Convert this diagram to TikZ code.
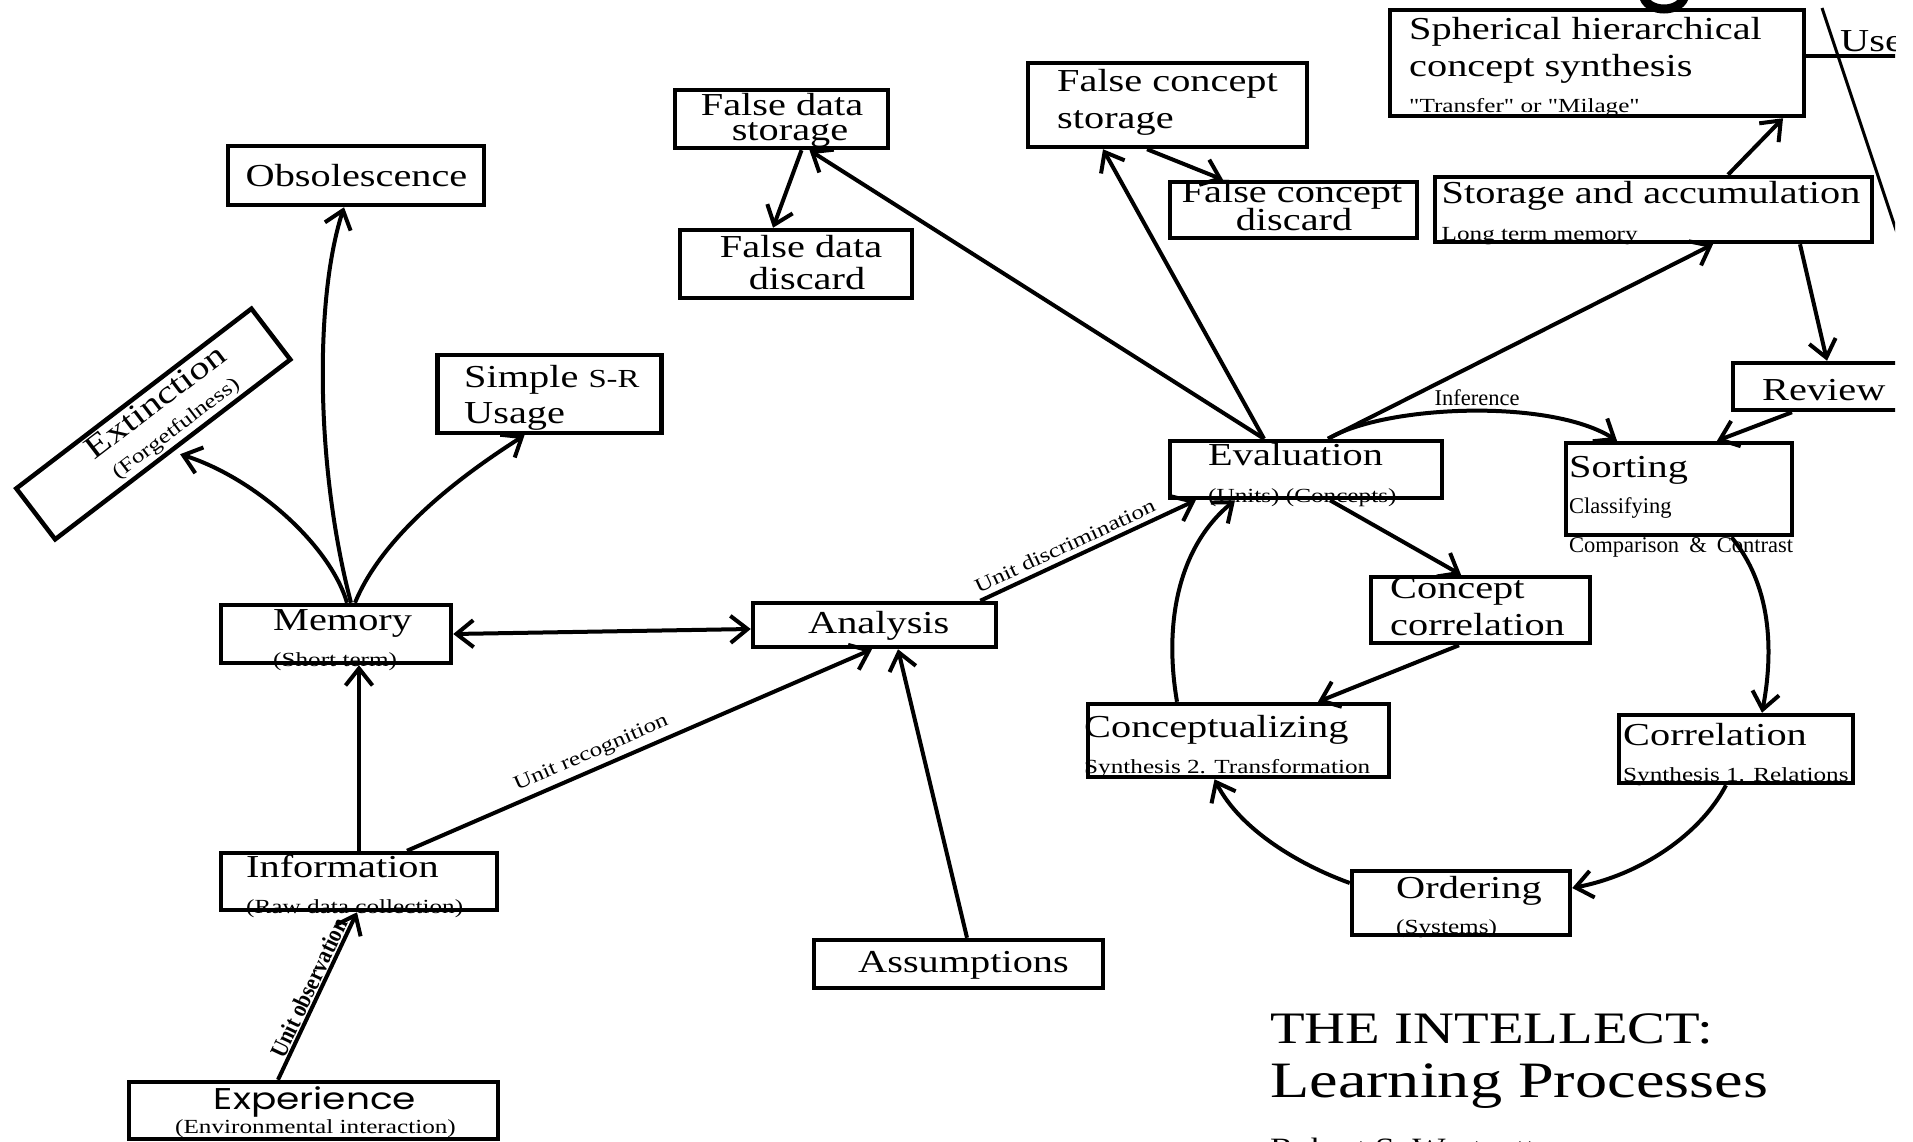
\documentclass[tikz,border=0pt]{standalone}
\usepackage{fontspec}
\setmainfont{Liberation Serif}
\newfontfamily\tnr{Liberation Serif}[FakeStretch=1.26]
\newfontfamily\tnrc{Liberation Serif}[FakeStretch=0.88]
\newfontfamily\gsans{Poppins}[FakeStretch=1.25]
\usetikzlibrary{arrows.meta}
\begin{document}
\begin{tikzpicture}[x=1pt,y=-1pt,
  box/.style={draw, line width=4.5pt, inner sep=0pt, rectangle},
  con/.style={line width=4pt},
  arr/.style={con, -{Straight Barb[length=17pt,width=27pt]}},
  darr/.style={con, {Straight Barb[length=17pt,width=27pt]}-{Straight Barb[length=17pt,width=27pt]}},
  big/.style={font=\tnr\fontsize{32}{32}\selectfont, inner sep=0pt},
  sml/.style={font=\tnr\fontsize{20}{20}\selectfont, inner sep=0pt},
  tiny/.style={font=\fontsize{22.5}{22.5}\selectfont, inner sep=0pt},
  ]
\useasboundingbox (0,0) rectangle (1913,1142);
\begin{scope}
\clip (0,0) rectangle (1895,1142);

% boxes
\node[box, minimum width=256pt, minimum height=59pt] (obs) at (356,175.5) {};
\node[box, minimum width=213pt, minimum height=58pt] (fds) at (781.5,119) {};
\node[box, minimum width=232pt, minimum height=68pt] (fdd) at (796,264) {};
\node[box, minimum width=279pt, minimum height=84pt] (fcs) at (1167.5,105) {};
\node[box, minimum width=247pt, minimum height=56pt] (fcd) at (1293.5,210) {};
\node[box, minimum width=414pt, minimum height=106pt] (sph) at (1597,63) {};
\node[box, minimum width=437pt, minimum height=65pt] (sto) at (1653.5,209.5) {};
\node[box, minimum width=197pt, minimum height=47pt] (rev) at (1831.5,386.5) {};
\node[box, minimum width=226pt, minimum height=92pt] (sort) at (1679,489) {};
\node[box, minimum width=272pt, minimum height=57pt] (eval) at (1306,469.5) {};
\node[box, minimum width=219pt, minimum height=66pt] (cc) at (1480.5,610) {};
\node[box, minimum width=301pt, minimum height=73pt] (ctz) at (1238.5,740.5) {};
\node[box, minimum width=234pt, minimum height=68pt] (corr) at (1736,749) {};
\node[box, minimum width=218pt, minimum height=64pt] (ord) at (1461,903) {};
\node[box, minimum width=230pt, minimum height=58pt] (mem) at (336,634) {};
\node[box, minimum width=243pt, minimum height=44pt] (ana) at (874.5,625) {};
\node[box, minimum width=224pt, minimum height=78pt] (ssr) at (549.5,394) {};
\node[box, minimum width=276pt, minimum height=57pt] (inf) at (359,881.5) {};
\node[box, minimum width=369pt, minimum height=57pt] (exp) at (313.5,1110.5) {};
\node[box, minimum width=289pt, minimum height=48pt] (ass) at (958.5,964) {};
\node[box, minimum width=296pt, minimum height=64pt, rotate=37.4] (ext) at (153.3,424) {};

% texts
\node[big, anchor=base west] (tobs) at (245.5,187) {Obsolescence};
\node[big, anchor=base] (tfds1) at (782,116) {False data};
\node[big, anchor=base] (tfds2) at (790,141) {storage};
\node[big, anchor=base] (tfdd1) at (801,257) {False data};
\node[big, anchor=base] (tfdd2) at (807,289) {discard};
\node[big, anchor=base west] (tfcs1) at (1057,92) {False concept};
\node[big, anchor=base west] (tfcs2) at (1057,129) {storage};
\node[big, anchor=base] (tfcd1) at (1292,203) {False concept};
\node[big, anchor=base] (tfcd2) at (1294,230) {discard};
\node[big, anchor=base west] (tsph1) at (1409,40) {Spherical hierarchical};
\node[big, anchor=base west] (tsph2) at (1409,77) {concept synthesis};
\node[sml, anchor=base west] (tsph3) at (1409,113) {"Transfer" or "Milage"};
\node[big, anchor=base west] (tsto1) at (1441.5,204) {Storage and accumulation};
\node[sml, anchor=base west] (tsto2) at (1441.5,240) {Long term memory};
\node[big, anchor=base west] (trev) at (1762,400) {Review};
\node[big, anchor=base west] (tsort1) at (1569,477) {Sorting};
\node[tiny, anchor=base west] (tsort2) at (1569,513) {Classifying};
\node[tiny, anchor=base west] (tsort3) at (1569,552) {Comparison\hspace{0.45em}\&\hspace{0.45em}Contrast};
\node[big, anchor=base west] (teval1) at (1208,465) {Evaluation};
\node[sml, anchor=base west] (teval2) at (1208,502) {(Units) (Concepts)};
\node[big, anchor=base west] (tcc1) at (1390,598) {Concept};
\node[big, anchor=base west] (tcc2) at (1390,635) {correlation};
\node[big, anchor=base west] (tctz1) at (1084,737) {Conceptualizing};
\node[sml, anchor=base west] (tctz2) at (1084,773) {Synthesis 2. Transformation};
\node[big, anchor=base west] (tcorr1) at (1623,745) {Correlation};
\node[sml, anchor=base west] (tcorr2) at (1623,781) {Synthesis 1. Relations};
\node[big, anchor=base west] (tord1) at (1396,898) {Ordering};
\node[sml, anchor=base west] (tord2) at (1396,933) {(Systems)};
\node[big, anchor=base west] (tmem1) at (273,630) {Memory};
\node[sml, anchor=base west] (tmem2) at (273,666) {(Short term)};
\node[big, anchor=base west] (tana) at (808,633) {Analysis};
\node[big, anchor=base west] (tssr1) at (464,387) {Simple {\fontsize{26}{26}\selectfont S-R}};
\node[big, anchor=base west] (tssr2) at (464,423) {Usage};
\node[big, anchor=base west] (tinf1) at (246,877) {Information};
\node[sml, anchor=base west] (tinf2) at (246,913) {(Raw data collection)};
\node[font=\gsans\fontsize{30}{30}\selectfont, inner sep=0pt, anchor=base] (texp1) at (315,1109) {Experience};
\node[sml, anchor=base] (texp2) at (315.5,1133) {(Environmental interaction)};
\node[big, anchor=base west] (tass) at (858,972) {Assumptions};
\node[big, anchor=base west] (tuse) at (1840,52) {Use};
\node[big, rotate=37.4] (text1) at (155,401.5) {Extinction};
\node[sml, rotate=37.4] (text2) at (177,429) {(Forgetfulness)};
\node[tiny, anchor=base] (tinfer) at (1477,405) {Inference};
\node[font=\tnr\fontsize{45}{45}\selectfont, inner sep=0pt, anchor=base west] (title1) at (1270,1043) {THE INTELLECT:};
\node[font=\tnr\fontsize{51}{51}\selectfont, inner sep=0pt, anchor=base west] (title2) at (1270,1097) {Learning Processes};
\node[font=\tnr\fontsize{28}{28}\selectfont, inner sep=0pt, anchor=base west] (author) at (1270,1157) {Robert S. Westcott};

% connectors
\draw[arr] ([xshift=15pt]mem.north) .. controls (316,470) and (314,300) .. ([xshift=-12pt]obs.south);
\draw[arr] ([xshift=11pt]mem.north) .. controls (330,545) and (255,478) .. ([shift={(6pt,-3pt)}]ext.south);
\draw[arr] ([xshift=19pt]mem.north) .. controls (385,530) and (470,470) .. ([xshift=-25pt]ssr.south);
\draw[darr] (mem.east) -- ([yshift=-4pt]ana.west);
\draw[arr] (inf.north) -- (inf.north |- mem.south);
\draw[arr] ([xshift=48pt]inf.north) -- node[sml, sloped, above=5pt, pos=0.41] (lrec) {Unit recognition} ([xshift=-2.5pt]ana.south);
\draw[arr] ([xshift=-35.5pt]exp.north) -- node[font=\tnrc\bfseries\fontsize{24}{24}\selectfont, inner sep=0pt, sloped, above=1pt, pos=0.52] (lobs) {Unit observation} ([xshift=-2pt]inf.south);
\draw[arr] ([xshift=8.5pt]ass.north) -- ([xshift=23.5pt]ana.south);
\draw[arr] ([xshift=-18pt]ana.north east) -- node[sml, sloped, above=5pt, pos=0.42] (ldis) {Unit discrimination} ([xshift=28pt]eval.south west);
\draw[arr] ([xshift=-42pt]eval.north) -- ([xshift=28pt]fds.south);
\draw[arr] ([xshift=-42pt]eval.north) -- ([xshift=-64.5pt]fcs.south);
\draw[arr] ([xshift=-20.5pt]fcs.south) -- ([xshift=-70.5pt]fcd.north);
\draw[arr] ([xshift=20pt]fds.south) -- ([xshift=-23pt]fdd.north);
\draw[arr] ([xshift=22pt]eval.north) -- ([xshift=59.5pt]sto.south);
\draw[arr] ([xshift=74.5pt]sto.north) -- ([xshift=186pt]sph.south);
\draw[arr] ([xshift=146.5pt]sto.south) -- ([xshift=-4.5pt]rev.north);
\draw[arr] ([xshift=-39.5pt]rev.south) -- ([xshift=38pt]sort.north);
\draw[arr] ([xshift=22pt]eval.north) .. controls (1385,405) and (1550,398) .. ([xshift=-62pt]sort.north);
\draw[arr] ([xshift=52.5pt]sort.south) .. controls (1775,590) and (1772,660) .. ([xshift=26pt]corr.north);
\draw[arr] ([xshift=-10pt]corr.south) .. controls (1700,835) and (1640,875) .. ([yshift=15pt]ord.east);
\draw[arr] ([yshift=20pt]ord.west) .. controls (1300,865) and (1240,830) .. ([xshift=-24pt]ctz.south);
\draw[arr] ([xshift=-61.5pt]ctz.north) .. controls (1163,620) and (1180,545) .. ([xshift=-71pt]eval.south);
\draw[arr] ([xshift=24pt]eval.south) -- ([xshift=-19.5pt]cc.north);
\draw[arr] ([xshift=-21.5pt]cc.south) -- ([xshift=79.5pt]ctz.north);

% top-right fragments
\coordinate (usee) at (1910,56);
\draw[con] ([yshift=7pt]sph.east) -- (usee);
\coordinate (dg1) at (1822,8);
\coordinate (dg2) at (1905,257);
\draw[line width=3pt] (dg1) -- (dg2);
\draw[line width=9pt] (1643,-6) .. controls (1645,14) and (1683,14) .. (1685,-6);
\end{scope}
\end{tikzpicture}
\end{document}
